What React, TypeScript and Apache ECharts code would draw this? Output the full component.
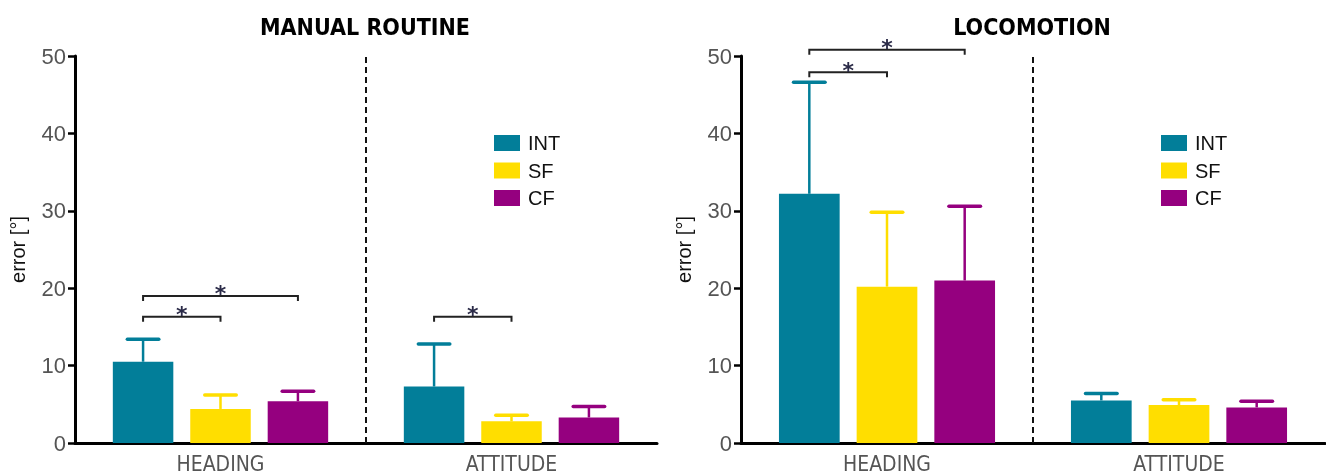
import React, { useEffect, useRef } from "react";
import * as echarts from "echarts";

const categories = ["HEADING", "ATTITUDE"];
const groups = ["INT", "SF", "CF"];
const colors = ["#027E99", "#FFDE00", "#95007F"];

// MANUAL ROUTINE: means and SD (upper error)
const manualINT = [10.5, 7.3];
const manualSF = [4.4, 2.8];
const manualCF = [5.4, 3.3];
const manualINTsd = [2.9, 5.5];
const manualSFsd = [1.8, 0.8];
const manualCFsd = [1.3, 1.4];

// LOCOMOTION
const locoINT = [32.2, 5.5];
const locoSF = [20.2, 4.9];
const locoCF = [21.0, 4.6];
const locoINTsd = [14.4, 0.9];
const locoSFsd = [9.6, 0.7];
const locoCFsd = [9.6, 0.8];

// significance brackets: [category, fromGroup, toGroup, yLevel]
const manualBrackets = [
  [0, 0, 1, 16.3],
  [0, 0, 2, 19.0],
  [1, 0, 1, 16.3],
];
const locoBrackets = [
  [0, 0, 1, 47.9],
  [0, 0, 2, 50.8],
];

const yTicks = [0, 10, 20, 30, 40, 50];
const yMin = 0;
const yMax = 50;
const yInterval = 10;

const CAT_GAP = 0.26;
const BAR_GAP = 0.28;
const NARROW = "'DejaVu Sans Condensed', 'Liberation Sans Narrow', sans-serif";
const SANS = "'Liberation Sans', Arial, sans-serif";

function barOffset(cw: number, i: number) {
  const usable = cw * (1 - CAT_GAP);
  const bw = usable / (groups.length + (groups.length - 1) * BAR_GAP);
  return { off: -usable / 2 + bw / 2 + i * bw * (1 + BAR_GAP), bw };
}

export default function App() {
  const ref = useRef<HTMLDivElement>(null);
  useEffect(() => {
    if (!ref.current) return;
    const chart = echarts.init(ref.current, undefined, { renderer: "svg" });

    const panels = [
      { means: [manualINT, manualSF, manualCF], sds: [manualINTsd, manualSFsd, manualCFsd], brackets: manualBrackets },
      { means: [locoINT, locoSF, locoCF], sds: [locoINTsd, locoSFsd, locoCFsd], brackets: locoBrackets },
    ];

    const series: any[] = [];
    panels.forEach((p, pi) => {
      groups.forEach((g, gi) => {
        series.push({
          type: "bar",
          name: g,
          xAxisIndex: pi,
          yAxisIndex: pi,
          data: p.means[gi],
          barGap: BAR_GAP * 100 + "%",
          barCategoryGap: CAT_GAP * 100 + "%",
          itemStyle: { color: colors[gi] },
          z: 3,
        });
        // error bars
        series.push({
          type: "custom",
          name: g + "-err",
          xAxisIndex: pi,
          yAxisIndex: pi,
          z: 2,
          clip: false,
          data: p.means[gi].map((m, ci) => [ci, m, m + p.sds[gi][ci]]),
          encode: { x: 0, y: 2 },
          renderItem: (params: any, api: any) => {
            const ci = api.value(0);
            const cw = api.size([1, 0])[0];
            const { off, bw } = barOffset(cw, gi);
            const base = api.coord([ci, api.value(1)]);
            const top = api.coord([ci, api.value(2)]);
            const x = base[0] + off;
            const half = bw * 0.26;
            return {
              type: "group",
              children: [
                { type: "line", shape: { x1: x, y1: base[1], x2: x, y2: top[1] }, style: { stroke: colors[gi], lineWidth: 2.5 } },
                { type: "line", shape: { x1: x - half, y1: top[1], x2: x + half, y2: top[1] }, style: { stroke: colors[gi], lineWidth: 3.5, lineCap: "round" } },
              ],
            };
          },
        });
      });
      // divider
      series.push({
        type: "custom",
        xAxisIndex: pi,
        yAxisIndex: pi,
        clip: false,
        z: 1,
        data: [[0, yMin]],
        encode: { x: 0, y: 1 },
        renderItem: (params: any, api: any) => {
          const cw = api.size([1, 0])[0];
          const b = api.coord([0, yMin]);
          const t = api.coord([0, yMax]);
          const x = b[0] + cw / 2;
          return { type: "line", shape: { x1: x, y1: b[1], x2: x, y2: t[1] }, style: { stroke: "#111", lineWidth: 2, lineDash: [6, 4] } };
        },
      });
      // brackets
      series.push({
        type: "custom",
        xAxisIndex: pi,
        yAxisIndex: pi,
        clip: false,
        z: 4,
        data: p.brackets,
        encode: { x: 0, y: 3 },
        renderItem: (params: any, api: any) => {
          const ci = api.value(0);
          const cw = api.size([1, 0])[0];
          const c = api.coord([ci, api.value(3)]);
          const x1 = c[0] + barOffset(cw, api.value(1)).off;
          const x2 = c[0] + barOffset(cw, api.value(2)).off;
          const y = c[1];
          return {
            type: "group",
            children: [
              { type: "polyline", shape: { points: [[x1, y + 5], [x1, y], [x2, y], [x2, y + 5]] }, style: { stroke: "#222", lineWidth: 2, fill: null } },
              { type: "text", x: (x1 + x2) / 2, y: y - 2, style: { text: "*", fill: "#2b2b48", font: `bold 22px 'DejaVu Sans', sans-serif`, textAlign: "center", textVerticalAlign: "middle" } },
            ],
          };
        },
      });
    });

    const grids = [
      { left: 75, right: 669, top: 56, bottom: 31 },
      { left: 741, right: 1, top: 56, bottom: 31 },
    ];

    const legendBase = {
      data: groups,
      orient: "vertical",
      top: 128,
      itemWidth: 26,
      itemHeight: 16,
      itemGap: 7.5,
      icon: "rect",
      selectedMode: false,
      textStyle: { fontSize: 20, color: "#111", fontFamily: SANS, padding: [0, 0, 0, 3] },
    };

    const option: any = {
      animation: false,
      grid: grids,
      legend: [
        { ...legendBase, left: 489 },
        { ...legendBase, left: 1156 },
      ],
      xAxis: [0, 1].map((i) => ({
        type: "category",
        gridIndex: i,
        data: categories,
        axisLine: { lineStyle: { color: "#000", width: 3 } },
        axisTick: { show: false },
        axisLabel: { color: "#555", fontSize: 21, fontFamily: NARROW, margin: 10 },
        splitLine: { show: false },
      })),
      yAxis: [0, 1].map((i) => ({
        type: "value",
        gridIndex: i,
        min: yMin,
        max: yMax,
        interval: yInterval,
        name: "error [°]",
        nameLocation: "middle",
        nameRotate: 90,
        nameGap: 47,
        nameTextStyle: { fontSize: 20, color: "#111", fontFamily: SANS },
        axisLine: { show: true, lineStyle: { color: "#000", width: 3 } },
        axisTick: { show: true, length: 7, lineStyle: { color: "#000", width: 2.5 } },
        axisLabel: { color: "#555", fontSize: 22, fontFamily: SANS, margin: 9, formatter: (v: number) => (yTicks.includes(v) ? String(v) : "") },
        splitLine: { show: false },
      })),
      graphic: [
        { type: "text", x: 365, y: 27, style: { text: "MANUAL ROUTINE", font: `bold 23px ${NARROW}`, fill: "#000", textAlign: "center", textVerticalAlign: "middle" } },
        { type: "text", x: 1032, y: 27, style: { text: "LOCOMOTION", font: `bold 23px ${NARROW}`, fill: "#000", textAlign: "center", textVerticalAlign: "middle" } },
      ],
      series,
    };
    chart.setOption(option);
    return () => chart.dispose();
  }, []);
  return <div ref={ref} style={{ position: "fixed", left: 0, top: 0, width: 1326, height: 474 }} />;
}
